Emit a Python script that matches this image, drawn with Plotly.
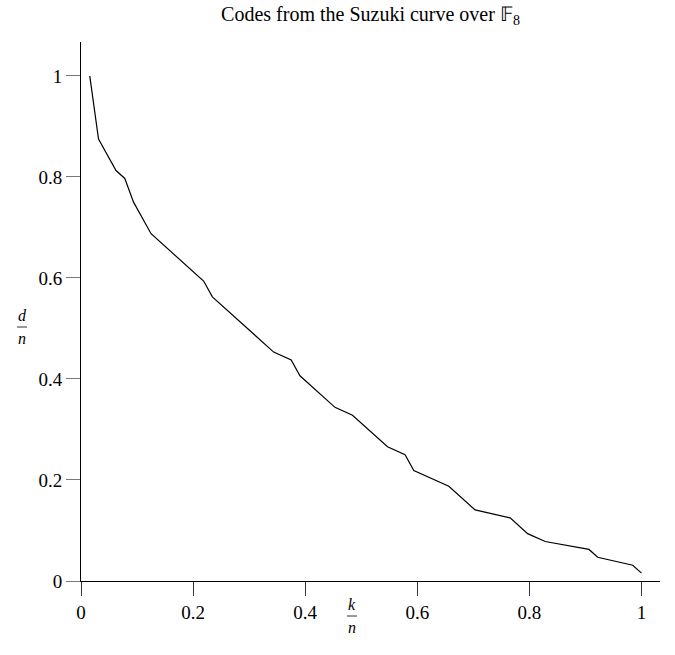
import plotly.graph_objects as go

# Code parameters (length n = 64), vertices
n = 64
k_vals = [1, 2, 4, 5, 6, 8, 14, 15, 22, 24, 25, 29, 31, 35, 37, 38, 42, 45, 49, 51, 53, 58, 59, 63, 64]
d_vals = [64, 56, 52, 51, 48, 44, 38, 36, 29, 28, 26, 22, 21, 17, 16, 14, 12, 9, 8, 6, 5, 4, 3, 2, 1]

x_ticks = [0, 0.2, 0.4, 0.6, 0.8, 1]
x_tick_labels = ["0", "0.2", "0.4", "0.6", "0.8", "1"]
y_ticks = [0, 0.2, 0.4, 0.6, 0.8, 1]
y_tick_labels = ["0", "0.2", "0.4", "0.6", "0.8", "1"]

title_text = "Codes from the Suzuki curve over \U0001D53D<sub>8</sub>"

xs = [k / n for k in k_vals]
ys = [d / n for d in d_vals]

W, H = 675, 655
L, R, T, B = 81, 660, 42, 581  # plot area in pixels

def px(x):
    return (x - L) / (R - L)

def py(y):
    return (B - y) / (B - T)

FONT = "Liberation Serif"

fig = go.Figure()
fig.add_trace(go.Scatter(x=xs, y=ys, mode="lines",
                         line=dict(color="black", width=1.2),
                         hoverinfo="skip", showlegend=False))

fig.update_layout(
    width=W, height=H,
    margin=dict(l=L, r=W - R, t=T, b=H - B, pad=0),
    paper_bgcolor="white", plot_bgcolor="white",
    font=dict(family=FONT, size=18, color="black"),
    title=dict(text=title_text, x=0.5, xref="paper", xanchor="center",
               y=1 - 14 / H, yref="container", yanchor="middle",
               font=dict(family=FONT, size=20, color="black")),
    xaxis=dict(range=[0, 1.033], showgrid=False, zeroline=False,
               showline=True, linecolor="black", linewidth=1,
               ticks="outside", ticklen=14, tickcolor="#333", tickwidth=1,
               tickvals=x_ticks, ticktext=x_tick_labels,
               tickfont=dict(family=FONT, size=19)),
    yaxis=dict(range=[0, 1.067], showgrid=False, zeroline=False,
               showline=True, linecolor="black", linewidth=1,
               ticks="outside", ticklen=14, tickcolor="#777", tickwidth=1,
               tickvals=y_ticks, ticktext=y_tick_labels,
               tickfont=dict(family=FONT, size=19)),
)

# Axis labels as stacked fractions: k/n and d/n
def fraction(num, cx, cy_line, half_w):
    fig.add_annotation(text="<i>%s</i>" % num, x=px(cx), y=py(cy_line - 1),
                       xref="paper", yref="paper", xanchor="center",
                       yanchor="bottom", showarrow=False,
                       font=dict(family=FONT, size=16))
    fig.add_annotation(text="<i>n</i>", x=px(cx), y=py(cy_line + 1),
                       xref="paper", yref="paper", xanchor="center",
                       yanchor="top", showarrow=False,
                       font=dict(family=FONT, size=16))
    fig.add_shape(type="line", xref="paper", yref="paper",
                  x0=px(cx - half_w), x1=px(cx + half_w),
                  y0=py(cy_line), y1=py(cy_line),
                  line=dict(color="black", width=0.8))

fraction("k", 352, 616, 5)
fraction("d", 22, 327, 5)

fig.write_html("out.html")
